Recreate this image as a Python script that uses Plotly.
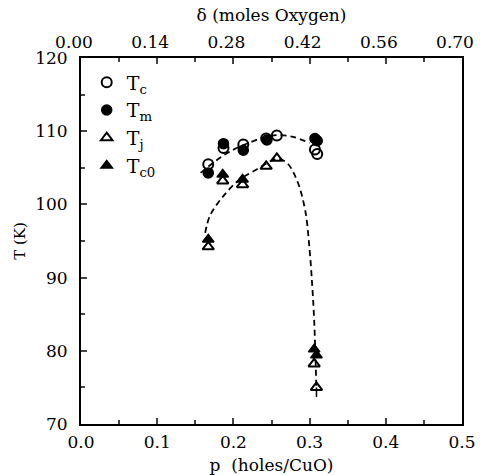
import plotly.graph_objects as go

# Data
p_tc = [0.167, 0.187, 0.213, 0.243, 0.257, 0.307, 0.310]
t_tc = [105.5, 107.7, 108.2, 109.0, 109.4, 107.5, 106.9]

p_tm = [0.167, 0.187, 0.213, 0.244, 0.307, 0.310]
t_tm = [104.3, 108.3, 107.4, 108.8, 109.0, 108.7]

p_tj = [0.167, 0.186, 0.212, 0.243, 0.257, 0.306, 0.309]
t_tj = [94.2, 103.2, 102.7, 105.2, 106.3, 78.2, 75.0]
tj_err_minus = [0, 0, 0, 0, 0, 0, 1.3]

p_tc0 = [0.167, 0.186, 0.212, 0.306, 0.309]
t_tc0 = [95.2, 104.1, 103.4, 80.2, 79.4]

# dashed guide curves
p_fit_up = [0.157, 0.175, 0.195, 0.22, 0.25, 0.275, 0.30]
t_fit_up = [104.3, 105.8, 107.2, 108.4, 109.4, 109.3, 108.4]
p_fit_lo = [0.163, 0.169, 0.185, 0.206, 0.231, 0.257, 0.270, 0.283, 0.294, 0.300, 0.3035, 0.306, 0.309]
t_fit_lo = [96.1, 98.4, 100.9, 103.2, 104.8, 106.2, 105.7, 103.4, 99.3, 93.8, 88.8, 84.2, 74.5]

FONT = "DejaVu Serif"
fig = go.Figure()

fig.add_trace(go.Scatter(x=p_fit_up, y=t_fit_up, mode="lines", showlegend=False,
                         line=dict(color="black", width=1.8, dash="6px,4px", shape="spline")))
fig.add_trace(go.Scatter(x=p_fit_lo, y=t_fit_lo, mode="lines", showlegend=False,
                         line=dict(color="black", width=1.8, dash="6px,4px", shape="spline")))

fig.add_trace(go.Scatter(x=p_tc, y=t_tc, mode="markers", name="T<sub>c</sub>", legendrank=1,
                         marker=dict(symbol="circle-open", size=10, color="black",
                                     line=dict(color="black", width=2))))
fig.add_trace(go.Scatter(x=p_tm, y=t_tm, mode="markers", name="T<sub>m</sub>", legendrank=2,
                         marker=dict(symbol="circle", size=10, color="black",
                                     line=dict(color="black", width=1.5))))
fig.add_trace(go.Scatter(x=p_tj, y=t_tj, mode="markers", name="T<sub>j</sub>", legendrank=3,
                         error_y=dict(type="data", symmetric=False, array=[0]*len(t_tj),
                                      arrayminus=tj_err_minus, color="black", thickness=1.5, width=0),
                         marker=dict(symbol="triangle-up-open", size=10, color="black",
                                     line=dict(color="black", width=2))))
fig.add_trace(go.Scatter(x=p_tc0, y=t_tc0, mode="markers", name="T<sub>c0</sub>", legendrank=4,
                         marker=dict(symbol="triangle-up", size=10, color="black",
                                     line=dict(color="black", width=1.5))))
fig.add_trace(go.Scatter(x=[], y=[], xaxis="x2", showlegend=False))

fig.update_layout(
    width=480, height=475,
    margin=dict(l=81, r=18, t=58, b=51),
    paper_bgcolor="white", plot_bgcolor="white",
    font=dict(family=FONT, size=17, color="black"),
    legend=dict(x=0.015, y=0.985, xanchor="left", yanchor="top",
                font=dict(family=FONT, size=19),
                bgcolor="rgba(0,0,0,0)", itemwidth=30),
    xaxis=dict(range=[0, 0.5], dtick=0.1, tickformat=".1f", ticks="inside", ticklen=6,
               tickwidth=1.5, linecolor="black", linewidth=2, mirror=True, showgrid=False,
               zeroline=False, automargin=False, ticklabelstandoff=2,
               minor=dict(dtick=0.05, ticks="inside", ticklen=4, tickwidth=1.5),
               title=dict(text="p  (holes/CuO)", standoff=12, font=dict(size=17))),
    xaxis2=dict(range=[0, 0.7], dtick=0.14, tickformat=".2f", overlaying="x", side="top",
                ticks="inside", ticklen=6, tickwidth=1.5, showgrid=False, zeroline=False,
                showline=False, automargin=False, ticklabelshift=-7, ticklabelstandoff=6,
                minor=dict(dtick=0.07, ticks="inside", ticklen=4, tickwidth=1.5),
                title=dict(text="δ (moles Oxygen)", standoff=5, font=dict(size=17))),
    yaxis=dict(range=[70, 120], dtick=10, ticks="inside", ticklen=6, tickwidth=1.5,
               linecolor="black", linewidth=2, mirror=True, showgrid=False, zeroline=False,
               automargin=False, ticklabelstandoff=8,
               minor=dict(dtick=5, ticks="inside", ticklen=4, tickwidth=1.5),
               title=dict(text="T (K)", standoff=6, font=dict(size=15))),
)

fig.write_html("out.html", config={"displayModeBar": False},
               post_script="document.body.style.margin='0';document.body.style.overflow='hidden';")
